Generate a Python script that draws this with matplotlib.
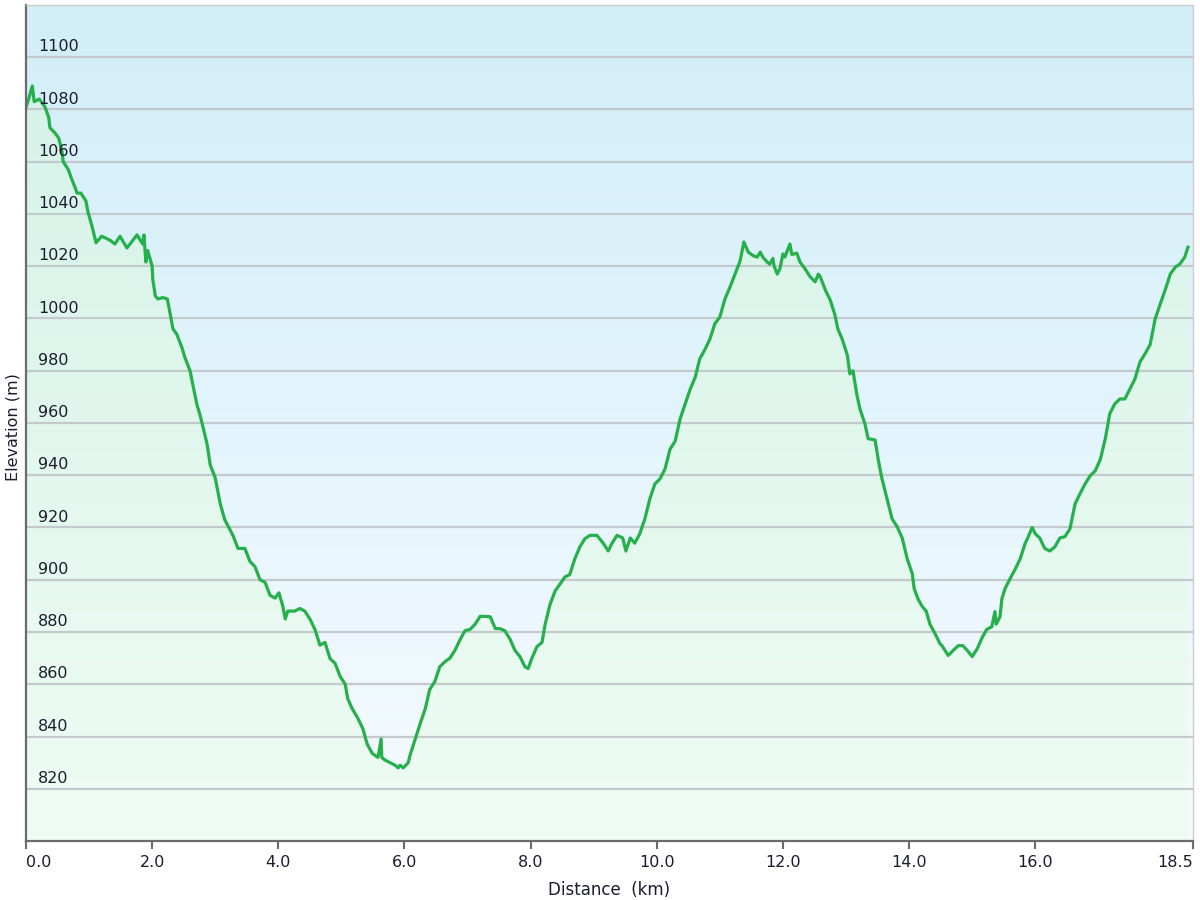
import numpy as np
import matplotlib
matplotlib.use("Agg")
import matplotlib.pyplot as plt
from matplotlib.colors import LinearSegmentedColormap
from matplotlib.patches import Polygon

# ---------------- data ----------------
distance_km = [
    0.00, 0.03, 0.10, 0.13, 0.21, 0.30, 0.36, 0.38, 0.46, 0.52, 0.57, 0.59, 0.67, 0.73, 0.78,
    0.81, 0.87, 0.95, 0.98, 1.05, 1.11, 1.20, 1.33, 1.41, 1.49, 1.60, 1.76, 1.85, 1.87, 1.90,
    1.93, 2.00, 2.01, 2.05, 2.09, 2.17, 2.24, 2.28, 2.33, 2.39, 2.47, 2.52, 2.60, 2.71, 2.76,
    2.87, 2.92, 3.00, 3.08, 3.15, 3.28, 3.36, 3.47, 3.55, 3.63, 3.71, 3.79, 3.87, 3.95, 4.01,
    4.07, 4.11, 4.15, 4.26, 4.34, 4.42, 4.50, 4.58, 4.66, 4.74, 4.82, 4.90, 4.98, 5.06, 5.10,
    5.17, 5.26, 5.34, 5.41, 5.49, 5.58, 5.63, 5.64, 5.69, 5.77, 5.85, 5.90, 5.93, 5.98, 6.06,
    6.09, 6.17, 6.25, 6.33, 6.40, 6.48, 6.56, 6.64, 6.72, 6.80, 6.88, 6.96, 7.04, 7.12, 7.20,
    7.28, 7.36, 7.44, 7.51, 7.59, 7.67, 7.75, 7.83, 7.91, 7.96, 8.02, 8.10, 8.18, 8.23, 8.31,
    8.39, 8.47, 8.54, 8.62, 8.70, 8.78, 8.86, 8.94, 9.05, 9.15, 9.23, 9.29, 9.37, 9.46, 9.51,
    9.58, 9.65, 9.73, 9.81, 9.89, 9.97, 10.05, 10.13, 10.21, 10.29, 10.37, 10.45, 10.53, 10.61,
    10.68, 10.76, 10.84, 10.92, 11.00, 11.08, 11.16, 11.24, 11.32, 11.38, 11.45, 11.53, 11.59,
    11.64, 11.68, 11.75, 11.79, 11.84, 11.86, 11.91, 11.95, 12.00, 12.03, 12.11, 12.14, 12.22,
    12.27, 12.35, 12.43, 12.51, 12.56, 12.59, 12.67, 12.75, 12.82, 12.87, 12.94, 13.02, 13.06,
    13.11, 13.17, 13.22, 13.30, 13.35, 13.46, 13.51, 13.57, 13.65, 13.73, 13.81, 13.89, 13.97,
    14.05, 14.08, 14.14, 14.20, 14.27, 14.33, 14.41, 14.49, 14.52, 14.62, 14.70, 14.78, 14.85,
    14.92, 15.00, 15.08, 15.16, 15.23, 15.31, 15.36, 15.38, 15.44, 15.47, 15.52, 15.60, 15.68,
    15.76, 15.84, 15.88, 15.95, 16.00, 16.07, 16.15, 16.23, 16.31, 16.39, 16.47, 16.55, 16.63,
    16.71, 16.79, 16.87, 16.95, 17.03, 17.11, 17.18, 17.26, 17.34, 17.42, 17.50, 17.58, 17.66,
    17.74, 17.82, 17.90, 17.98, 18.06, 18.14, 18.22, 18.29, 18.37, 18.42,
]
elevation_m = [
    1081, 1083, 1089, 1083, 1084, 1081, 1077, 1073, 1071, 1069, 1064, 1060, 1057, 1053, 1050,
    1048, 1048, 1045, 1041, 1035, 1029, 1031.5, 1030, 1028.5, 1031.5, 1027, 1032, 1028.5, 1032, 1021.6,
    1026, 1020, 1015, 1008.6, 1007.5, 1008, 1007.5, 1002.5, 996, 994, 989, 985, 980, 967, 963,
    952, 944, 939, 929, 923, 917, 912, 912, 907, 905, 900, 899, 894, 893, 895,
    890, 885, 888, 888, 889, 888, 885, 881, 875, 876, 869.8, 868, 863, 860, 854.5,
    850.7, 847, 843, 837, 833.5, 832, 839, 832, 831, 830, 829, 828, 829, 828, 830,
    833, 839, 845, 850.7, 858, 861, 866.7, 868.6, 870, 873, 877, 880.5, 881, 883, 886,
    886, 885.8, 881.3, 881.3, 880.5, 877.4, 873, 870.6, 866.7, 866, 870, 874.4, 876, 883, 890.8,
    895.8, 898.5, 901, 902, 908, 912.6, 915.7, 917, 917, 914, 911, 914, 917, 916, 911,
    916, 914, 917.6, 923.3, 931, 936.7, 938.6, 942.4, 950, 953, 961.6, 967.3, 973, 977.6,
    984.5, 988, 992, 998, 1000.6, 1007.5, 1012, 1017, 1022, 1029.3, 1025.4, 1024, 1023.5,
    1025.4, 1023.5, 1021.6, 1020.8, 1023, 1020, 1017, 1019, 1024.7, 1023.5, 1028.5, 1024.5, 1025,
    1021.6, 1019, 1016, 1014, 1017, 1016, 1011, 1007, 1001.7, 996, 992, 986, 978.8,
    980, 971, 965.4, 959.6, 954, 953.5, 946, 938.6, 931, 923.3, 920.3, 916, 908,
    902.3, 896.6, 892.7, 890, 888, 883, 879.4, 875.5, 874.8, 871, 873, 874.8, 874.8,
    873, 870.6, 873.6, 878, 881, 882, 887.8, 883, 885.8, 892.7, 896.6, 900.4, 904,
    908, 914, 916, 920, 917.6, 916, 912, 911, 912.6, 916, 916.5, 919.5, 929,
    933, 936.7, 939.8, 941.7, 946, 954, 963.5, 967.3, 969.2, 969.2, 973, 976.9, 983.4,
    986.5, 990, 999.8, 1005.5, 1011, 1017, 1019.7, 1020.8, 1023.5, 1027.3,
]

x_tick_values = [0, 2, 4, 6, 8, 10, 12, 14, 16, 18.5]
x_tick_labels = ["0.0", "2.0", "4.0", "6.0", "8.0", "10.0", "12.0", "14.0", "16.0", "18.5"]
y_tick_values = [820, 840, 860, 880, 900, 920, 940, 960, 980, 1000, 1020, 1040, 1060, 1080, 1100]

x_min, x_max = 0.0, 18.5
y_min, y_max = 800, 1120

# ---------------- style ----------------
text_color = "#1c1c2e"
line_color = "#25b04b"
bg_top, bg_bottom = "#d1eef9", "#f6fbff"
fill_top, fill_bottom = "#d3f2e8", "#effcf3"
grid_color = "#c3c9cd"

fig = plt.figure(figsize=(12, 9), dpi=100)
ax = fig.add_axes([26 / 1200, 1 - 841 / 900, (1193 - 26) / 1200, (841 - 5) / 900])
ax.set_xlim(x_min, x_max)
ax.set_ylim(y_min, y_max)

# background gradient
grad = np.linspace(0, 1, 256).reshape(-1, 1)
bg_cmap = LinearSegmentedColormap.from_list("bg", [bg_bottom, bg_top])
ax.imshow(grad, cmap=bg_cmap, extent=[x_min, x_max, y_min, y_max], aspect="auto",
          origin="lower", zorder=0, interpolation="bicubic")

# fill under curve gradient
x = np.asarray(distance_km, dtype=float)
y = np.asarray(elevation_m, dtype=float)
verts = np.column_stack([np.r_[x[0], x, x[-1]], np.r_[y_min, y, y_min]])
clip = Polygon(verts, closed=True, facecolor="none", edgecolor="none", transform=ax.transData)
ax.add_patch(clip)
fill_cmap = LinearSegmentedColormap.from_list("fill", [fill_bottom, fill_top])
im = ax.imshow(grad, cmap=fill_cmap, extent=[x_min, x_max, y_min, y_max], aspect="auto",
               origin="lower", zorder=1, interpolation="bicubic")
im.set_clip_path(clip)

# gridlines
for v in y_tick_values:
    ax.axhline(v, color=grid_color, lw=1.6, zorder=2)

# line
ax.plot(x, y, color=line_color, lw=2.3, zorder=4, solid_joinstyle="round")

# y tick labels inside the plot
for v in y_tick_values:
    ax.annotate(str(v), xy=(0, v), xycoords=("axes fraction", "data"),
                xytext=(8.6, 4.2), textcoords="offset points",
                ha="left", va="baseline", fontsize=11.5, color=text_color, zorder=5)
ax.set_yticks([])

# x ticks
ax.set_xticks(x_tick_values)
ax.set_xticklabels(x_tick_labels, fontsize=11.5, color=text_color)
labels = ax.get_xticklabels()
labels[0].set_horizontalalignment("left")
labels[-1].set_horizontalalignment("right")
ax.tick_params(axis="x", direction="out", length=6, width=1.5, color="#6b6b6b", pad=4)

# spines
for s in ["top", "right"]:
    ax.spines[s].set_color("#cdcdcd")
    ax.spines[s].set_linewidth(1.0)
for s in ["left", "bottom"]:
    ax.spines[s].set_color("#6b6b6b")
    ax.spines[s].set_linewidth(1.6)
for s in ax.spines.values():
    s.set_zorder(6)

ax.set_xlabel("Distance  (km)", fontsize=12, color=text_color, labelpad=8)
fig.text(13 / 1200, 1 - 427 / 900, "Elevation (m)", rotation=90, ha="center", va="center",
         fontsize=11.5, color=text_color)

fig.savefig("out.png", dpi=100)
